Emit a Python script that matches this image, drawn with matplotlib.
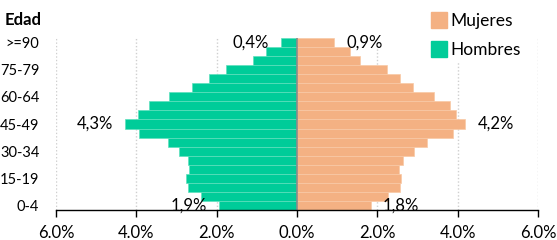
import matplotlib
matplotlib.use("Agg")
import matplotlib.pyplot as plt
import numpy as np
from matplotlib.lines import Line2D

ages = ['0-4', '5-9', '10-14', '15-19', '20-24', '25-29', '30-34', '35-39', '40-44',
        '45-49', '50-54', '55-59', '60-64', '65-69', '70-74', '75-79', '80-84', '85-89', '>=90']
hombres = [1.93, 2.38, 2.72, 2.76, 2.69, 2.72, 2.94, 3.22, 3.93, 4.28,
           3.97, 3.68, 3.18, 2.61, 2.19, 1.76, 1.09, 0.76, 0.40]
mujeres = [1.83, 2.27, 2.57, 2.60, 2.54, 2.65, 2.92, 3.23, 3.89, 4.19,
           3.97, 3.82, 3.40, 2.89, 2.56, 2.23, 1.57, 1.31, 0.92]
labelled = ['0-4', '45-49', '>=90']
xticks = [-6, -4, -2, 0, 2, 4, 6]
xticklabels = ['6.0%', '4.0%', '2.0%', '0.0%', '2.0%', '4.0%', '6.0%']

plt.rcParams['font.family'] = ['Lato', 'DejaVu Sans']

GREEN = '#00CC99'
ORANGE = '#F4B183'

fig = plt.figure(figsize=(5.57, 2.40), dpi=100)
ax = fig.add_axes([56/557, 1-210/240, (538-56)/557, (210-38)/240])

y = np.arange(len(ages))
ax.barh(y, [-v for v in hombres], height=1.0, color=GREEN, edgecolor='#5fe0bd', linewidth=0.5, zorder=2)
ax.barh(y, mujeres, height=1.0, color=ORANGE, edgecolor='#f8c9a6', linewidth=0.5, zorder=2)

ax.set_xlim(-6, 6)
ax.set_ylim(-0.5, len(ages) - 0.5)

for gx in [-6, -4, -2, 2, 4, 6]:
    ax.axvline(gx, color='#cfcfcf', linestyle=(0, (1, 1.5)), linewidth=1, zorder=1)
ax.axvline(0, color='#8a8a8a', linewidth=1.2, zorder=3)

for s in ['top', 'right', 'left']:
    ax.spines[s].set_visible(False)
ax.spines['bottom'].set_color('black')
ax.spines['bottom'].set_linewidth(1.0)
ax.spines['bottom'].set_zorder(4)

ax.set_xticks(xticks)
ax.set_xticklabels(xticklabels, fontsize=12)
ax.tick_params(axis='x', direction='out', length=5, width=1, color='black', pad=6)

ax.set_yticks(y[::3])
ax.set_yticklabels(ages[::3], fontsize=10.5)
ax.tick_params(axis='y', length=0, pad=12)

gap = 0.3
for i, a in enumerate(ages):
    if a in labelled:
        h = hombres[i]
        m = mujeres[i]
        ax.text(-h - gap, i, f"{h:.1f}%".replace('.', ','), ha='right', va='center',
                fontsize=12, zorder=5)
        ax.text(m + gap, i, f"{m:.1f}%".replace('.', ','), ha='left', va='center',
                fontsize=12, zorder=5)

fig.text(5/557, 1-20/240, 'Edad', fontsize=12, fontweight='bold', ha='left', va='center')

handles = [Line2D([], [], marker='s', linestyle='none', markersize=11, color=ORANGE, label='Mujeres'),
           Line2D([], [], marker='s', linestyle='none', markersize=11, color=GREEN, label='Hombres')]
leg = fig.legend(handles=handles, loc='upper left', bbox_to_anchor=(429/557, 1-10/240),
                 frameon=True, fontsize=12.5, handlelength=0.8, handletextpad=0.25,
                 labelspacing=0.75, borderpad=0.2, borderaxespad=0)
leg.get_frame().set_edgecolor('none')
leg.get_frame().set_facecolor('white')
leg.get_frame().set_alpha(1)

fig.savefig('out.png', dpi=100)
